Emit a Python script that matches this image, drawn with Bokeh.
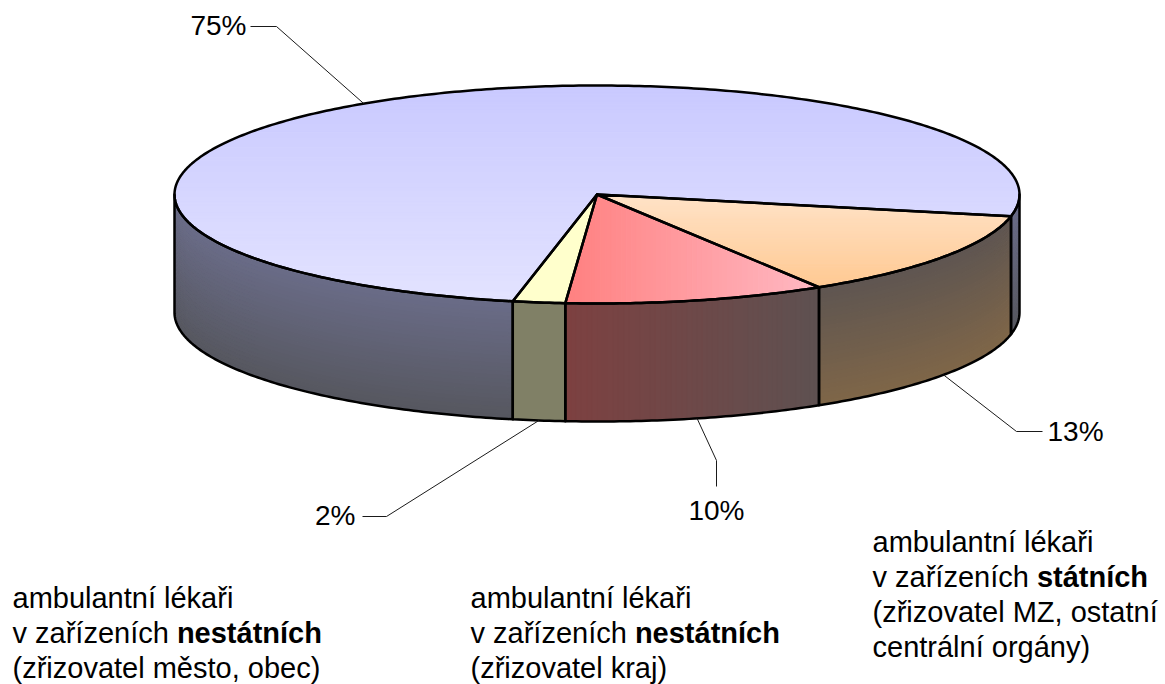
import numpy as np
from bokeh.plotting import figure
from bokeh.models import Range1d
from bokeh.core.properties import value
from bokeh.embed import file_html
from bokeh.resources import INLINE

# ---------------- data ----------------
slice_names = ["státní (MZ, ostatní centrální orgány)", "nestátní (kraj)",
               "nestátní (město, obec)", "ostatní"]
values = [13, 10, 2, 75]
pct_labels = [f"{v}%" for v in values]

legend_first = ["ambulantní lékaři", "ambulantní lékaři", "ambulantní lékaři"]
legend_regular = ["v zařízeních ", "v zařízeních ", "v zařízeních "]
legend_bold = ["státních", "nestátních", "nestátních"]
legend_notes = [["(zřizovatel MZ, ostatní", "centrální orgány)"],
                ["(zřizovatel kraj)"],
                ["(zřizovatel město, obec)"]]

# ---------------- layout / style ----------------
CX, CY, A, B, DEPTH = 596.5, 194.0, 422.5, 109.0, 118.0
START = 11.5
FONT = "Liberation Sans"

top_styles = [("y", "#ffe3c8", "#ffc992"),   # orange
              ("x", "#ff8080", "#ffb9c3"),   # red
              (None, "#ffffcc", "#ffffcc"),  # yellow
              ("y", "#c9c9ff", "#e3e3ff")]   # blue
side_styles = [("d", "#5e5551", "#7f6648"),
               ("x", "#7d4141", "#5e5151"),
               (None, "#808066", "#808066"),
               ("d", "#6a6c88", "#56575f")]

label_elbow = [(1016, 431), (716, 460), (386, 516), (276, 26)]
label_end = [(1042, 431), (716, 486), (362, 516), (250, 26)]
label_text_pos = [(1047, 431, "left"), (716, 510, "center"),
                  (355, 515, "right"), (246, 25, "right")]

legend_pos = [(872, 541), (470, 597), (12, 597)]
LINE_H = 35
FS = 29
FS_PCT = 28

# approximate Arial / Liberation Sans advance widths (em/1000)
CW = {" ": 278, "a": 556, "b": 556, "c": 500, "e": 556, "h": 556, "i": 222,
      "í": 278, "k": 500, "l": 222, "m": 833, "n": 556, "ř": 333, "t": 278,
      "u": 556, "v": 500, "z": 500, "á": 556, "é": 556}


def text_w(s, size):
    return sum(CW.get(ch, 556) for ch in s) / 1000.0 * size


def hx(h):
    h = h.lstrip("#")
    return np.array([int(h[i:i + 2], 16) for i in (0, 2, 4)], float)


def lerp(c0, c1, f):
    f = min(max(f, 0.0), 1.0)
    c = hx(c0) * (1 - f) + hx(c1) * f
    return "#%02x%02x%02x" % tuple(int(round(v)) for v in c)


def ell(t, dy=0.0):
    r = np.radians(t)
    return CX + A * np.cos(r), CY + dy + B * np.sin(r)


def arc(t0, t1, dy=0.0):
    n = max(int(abs(t1 - t0) / 0.75) + 2, 2)
    ts = np.linspace(t0, t1, n)
    xs, ys = ell(ts, dy)
    return list(zip(xs, ys))


def clip(poly, axis, bound, keep_greater):
    out = []
    n = len(poly)
    for i in range(n):
        cur, prev = poly[i], poly[i - 1]
        cin = cur[axis] >= bound if keep_greater else cur[axis] <= bound
        pin = prev[axis] >= bound if keep_greater else prev[axis] <= bound
        if cin != pin:
            t = (bound - prev[axis]) / (cur[axis] - prev[axis])
            out.append((prev[0] + t * (cur[0] - prev[0]),
                        prev[1] + t * (cur[1] - prev[1])))
        if cin:
            out.append(cur)
    return out


fill_xs, fill_ys, fill_c = [], [], []
out_xs, out_ys = [], []


def add_poly(poly, col):
    fill_xs.append([p[0] for p in poly])
    fill_ys.append([p[1] for p in poly])
    fill_c.append(col)


def add_grad(poly, axis, c0, c1, n=60):
    if axis is None:
        add_poly(poly, c0)
        return
    ax = 0 if axis == "x" else 1
    lo = min(p[ax] for p in poly)
    hi = max(p[ax] for p in poly)
    step = (hi - lo) / n
    for i in range(n):
        a = lo + i * step
        b = a + step + 0.01
        q = clip(poly, ax, a, True)
        if len(q) < 3:
            continue
        q = clip(q, ax, b, False)
        if len(q) >= 3:
            add_poly(q, lerp(c0, c1, (i + 0.5) / n))


# slice angles
cum = np.concatenate([[0], np.cumsum(values)])
t_start = START + 360.0 * cum[:-1] / 100.0
t_end = START + 360.0 * cum[1:] / 100.0

# ---- tops: full ellipse in the 75 % colour first, then the other slices ----
full = arc(0, 360)
add_grad(full, top_styles[3][0], top_styles[3][1], top_styles[3][2], n=70)
for i in range(3):
    poly = [(CX, CY)] + arc(t_start[i], t_end[i])
    ax, c0, c1 = top_styles[i]
    add_grad(poly, ax, c0, c1, n=50)

# ---- sides (front half only) ----
for i in range(4):
    mode, c0, c1 = side_styles[i]
    for k in (0.0, 360.0):
        lo, hi = max(t_start[i], k), min(t_end[i], k + 180.0)
        if lo >= hi:
            continue
        band = arc(lo, hi) + arc(hi, lo, DEPTH)
        out_xs.append([p[0] for p in band])
        out_ys.append([p[1] for p in band])
        if mode is None:
            add_poly(band, c0)
        elif mode == "d":
            n = 30
            for j in range(n):
                d0, d1 = DEPTH * j / n, DEPTH * (j + 1) / n + 0.3
                add_poly(arc(lo, hi, d0) + arc(hi, lo, min(d1, DEPTH)),
                         lerp(c0, c1, (j + 0.5) / n))
        else:
            n = 50
            x_lo, x_hi = ell(hi)[0], ell(lo)[0]
            ts = np.linspace(lo, hi, n + 1)
            for j in range(n):
                a0, a1 = ts[j], min(ts[j + 1] + 0.2, hi)
                xm = ell((a0 + a1) / 2)[0]
                f = (xm - x_lo) / (x_hi - x_lo)
                add_poly(arc(a0, a1) + arc(a1, a0, DEPTH), lerp(c0, c1, f))

# outlines of the tops
for i in range(4):
    poly = [(CX, CY)] + arc(t_start[i], t_end[i])
    out_xs.append([p[0] for p in poly])
    out_ys.append([p[1] for p in poly])

# ---------------- figure ----------------
W, H = 1165, 684
p = figure(width=W, height=H, output_backend="svg", toolbar_location=None,
           x_range=Range1d(0, W), y_range=Range1d(H, 0),
           x_axis_type=None, y_axis_type=None, min_border=0)
p.grid.visible = False
p.outline_line_color = None
p.background_fill_color = "white"
p.border_fill_color = "white"

p.patches(fill_xs, fill_ys, fill_color=fill_c, line_color=fill_c, line_width=1)
p.patches(out_xs, out_ys, fill_alpha=0, line_color="black", line_width=2.5,
          line_join="round")

# leader lines: anchor at the middle angle of each slice
lx, ly = [], []
for i in range(4):
    tm = (t_start[i] + t_end[i]) / 2.0
    front = (tm % 360) < 180
    ax_, ay_ = ell(tm, DEPTH if front else 0.0)
    ex, ey = label_elbow[i]
    fx, fy = label_end[i]
    lx.append([float(ax_), ex, fx])
    ly.append([float(ay_), ey, fy])
p.multi_line(lx, ly, line_color="#1a1a1a", line_width=1)

for i in range(4):
    x, y, al = label_text_pos[i]
    p.text(x=[x], y=[y], text=[pct_labels[i]], text_font=value(FONT),
           text_font_size=value(f"{FS_PCT}px"), text_align=al,
           text_baseline="middle", text_color="black")

# category texts
for g in range(3):
    x0, y0 = legend_pos[g]
    p.text(x=[x0], y=[y0], text=[legend_first[g]], text_font=value(FONT),
           text_font_size=value(f"{FS}px"), text_baseline="middle",
           text_color="black")
    y1 = y0 + LINE_H
    p.text(x=[x0], y=[y1], text=[legend_regular[g]], text_font=value(FONT),
           text_font_size=value(f"{FS}px"), text_baseline="middle",
           text_color="black")
    p.text(x=[x0 + text_w(legend_regular[g], FS)], y=[y1], text=[legend_bold[g]],
           text_font=value(FONT), text_font_size=value(f"{FS}px"),
           text_font_style="bold", text_baseline="middle", text_color="black")
    for k, note in enumerate(legend_notes[g]):
        p.text(x=[x0], y=[y1 + LINE_H * (k + 1)], text=[note], text_font=value(FONT),
               text_font_size=value(f"{FS}px"), text_baseline="middle",
               text_color="black")

open("out.html", "w").write(file_html(p, INLINE))
